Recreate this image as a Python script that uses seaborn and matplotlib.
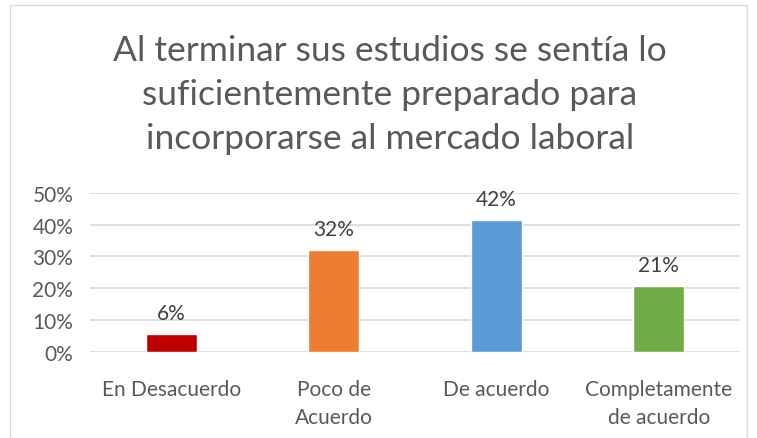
import matplotlib
matplotlib.use("Agg")
import matplotlib.pyplot as plt
import seaborn as sns
import pandas as pd
from matplotlib.ticker import PercentFormatter
from matplotlib.patches import Rectangle

categories = ["En Desacuerdo", "Poco de\nAcuerdo", "De acuerdo", "Completamente\nde acuerdo"]
values = [0.056, 0.321, 0.415, 0.207]
colors = ["#C00000", "#ED7D31", "#5B9BD5", "#70AD47"]
title = "Al terminar sus estudios se sentía lo\nsuficientemente preparado para\nincorporarse al mercado laboral"

sns.set_style("white")
plt.rcParams["font.family"] = ["Lato", "DejaVu Sans"]

df = pd.DataFrame({"cat": categories, "val": values})

fig = plt.figure(figsize=(7.57, 4.39), dpi=100)
ax = fig.add_axes([90/757, 1-352.7/439, 650/757, (352.7-194)/439])

sns.barplot(data=df, x="cat", y="val", hue="cat", palette=colors, legend=False,
            width=0.314, ax=ax, saturation=1)

ax.set_ylim(0, 0.5)
ax.set_yticks([0, 0.1, 0.2, 0.3, 0.4, 0.5])
ax.yaxis.set_major_formatter(PercentFormatter(1.0, decimals=0))
ax.grid(axis="y", color="#D9D9D9", linewidth=1.2)
ax.set_axisbelow(True)
for s in ax.spines.values():
    s.set_visible(False)
ax.tick_params(axis="both", length=0, labelsize=15, labelcolor="#595959")
ax.tick_params(axis="x", pad=20)
ax.tick_params(axis="y", pad=12)
for lbl in ax.get_xticklabels():
    lbl.set_linespacing(1.5)
ax.set_xlabel("")
ax.set_ylabel("")

for i, v in enumerate(values):
    ax.text(i, v + 0.035, f"{round(v*100):.0f}%", ha="center", va="bottom",
            fontsize=15, color="#404040")

fig.text(0.515, 1 - 95/439, title, ha="center", va="center", fontsize=25.5,
         color="#595959", linespacing=1.45)

fig.patches.append(Rectangle((10/757, -0.05), 737/757, 1.05 - 6/439, transform=fig.transFigure,
                             fill=False, edgecolor="#D9D9D9", linewidth=1))

fig.savefig("out.png", dpi=100)
